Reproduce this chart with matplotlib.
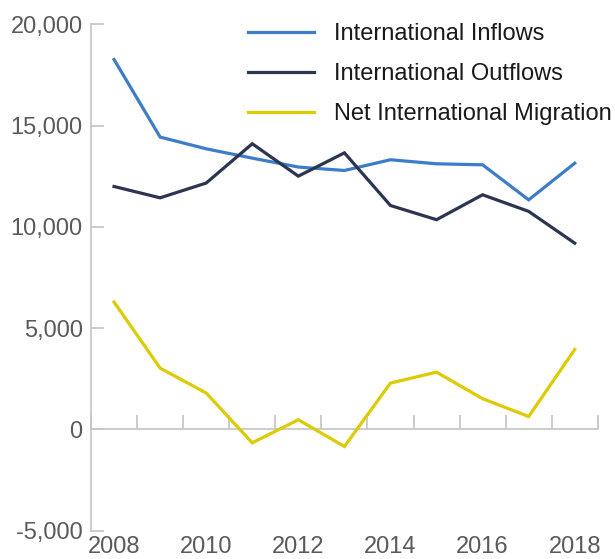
import matplotlib
matplotlib.use("Agg")
import matplotlib.pyplot as plt
from matplotlib.ticker import FuncFormatter, FixedLocator
import numpy as np

plt.rcParams['font.family'] = ['Liberation Sans', 'DejaVu Sans']

years = [2008, 2009, 2010, 2011, 2012, 2013, 2014, 2015, 2016, 2017, 2018]
inflows = [18270, 14440, 13860, 13400, 12960, 12790, 13320, 13120, 13070, 11340, 13150]
outflows = [12000, 11440, 12170, 14110, 12510, 13660, 11060, 10360, 11590, 10770, 9200]
net_migration = [6290, 3030, 1800, -660, 480, -840, 2290, 2830, 1520, 640, 3950]
series_names = ["International Inflows", "International Outflows", "Net International Migration"]
colors = ["#3d7cc9", "#2c3550", "#dccb00"]

fig = plt.figure(figsize=(6.15, 5.59), dpi=100)
ax = fig.add_axes([0.148, 0.0506, 0.824, 0.9056])

x = np.arange(len(years))
for vals, name, c in zip([inflows, outflows, net_migration], series_names, colors):
    ax.plot(x, vals, color=c, lw=2.3, label=name, solid_joinstyle='miter')

ax.set_xlim(-0.5, len(years) - 0.5)
ax.set_ylim(-5000, 20000)
ax.set_yticks(np.arange(-5000, 20001, 5000))
ax.yaxis.set_major_formatter(FuncFormatter(lambda v, p: f"{int(v):,}"))

grey = "#c4c4c4"
txt = "#5a5a5a"
for s in ["top", "right", "bottom"]:
    ax.spines[s].set_visible(False)
ax.spines["left"].set_color(grey)
ax.spines["left"].set_linewidth(1.2)
ax.tick_params(axis="y", direction="in", length=9, width=1.2, color=grey,
               labelsize=17, labelcolor=txt, pad=6)

ax.set_xticks(x[::2])
ax.set_xticklabels([str(y) for y in years[::2]])
ax.tick_params(axis="x", length=0, labelsize=17, labelcolor=txt, pad=4)

# zero line with category boundary ticks
sec = ax.secondary_xaxis(0.2)
sec.spines["bottom"].set_color(grey)
sec.spines["bottom"].set_linewidth(1.2)
sec.xaxis.set_major_locator(FixedLocator(np.arange(-0.5, len(years), 1.0)))
sec.tick_params(axis="x", direction="in", length=10, width=1.2, color=grey, labelbottom=False)

leg = ax.legend(loc="upper left", bbox_to_anchor=(0.31, 1.003), frameon=False,
                fontsize=17, handlelength=2.8, handletextpad=0.85, labelspacing=0.76,
                borderaxespad=0, borderpad=0)
for t in leg.get_texts():
    t.set_color("#1a1a1a")

fig.savefig("out.png", dpi=100)
